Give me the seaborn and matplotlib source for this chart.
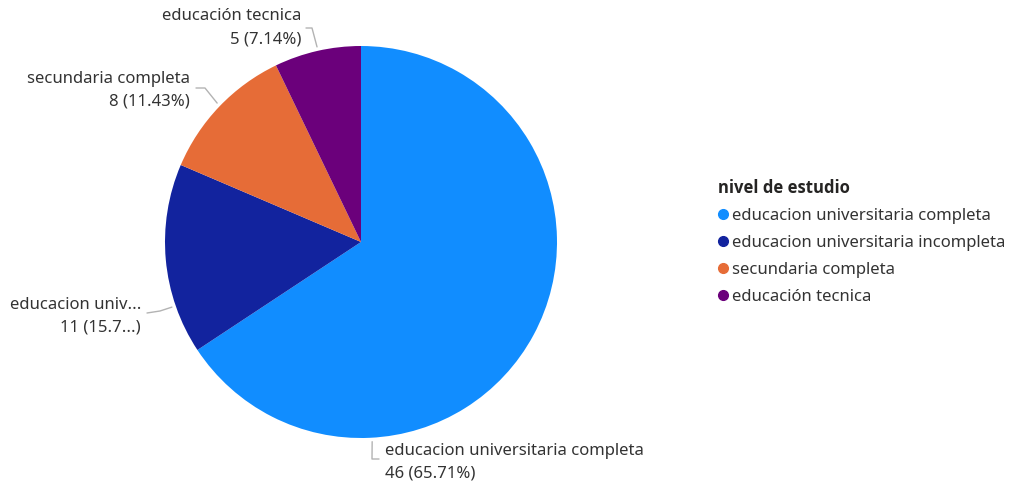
import numpy as np
import matplotlib
matplotlib.use("Agg")
import matplotlib.pyplot as plt
from matplotlib.lines import Line2D
import seaborn as sns

# Data
categories = [
    "educacion universitaria completa",
    "educacion universitaria incompleta",
    "secundaria completa",
    "educación tecnica",
]
counts = [46, 11, 8, 5]
slice_labels = [
    ("educacion universitaria completa", "46 (65.71%)"),
    ("educacion univ...", "11 (15.7...)"),
    ("secundaria completa", "8 (11.43%)"),
    ("educación tecnica", "5 (7.14%)"),
]
legend_title = "nivel de estudio"
colors = ["#118DFF", "#12239E", "#E66C37", "#6B007B"]

sns.set_theme(style="white")
plt.rcParams["font.family"] = ["Noto Sans", "DejaVu Sans"]

W, H = 1009, 484
fig = plt.figure(figsize=(W / 100, H / 100), dpi=100)
ax = fig.add_axes([0, 0, 1, 1])
ax.set_xlim(0, W)
ax.set_ylim(0, H)
ax.set_aspect("equal")
ax.axis("off")

def py(y):
    return H - y

cx, cy, r = 361, 242, 196
palette = sns.color_palette(colors)
ax.pie(counts, colors=palette, startangle=90, counterclock=False,
       center=(cx, py(cy)), radius=r, frame=True,
       wedgeprops=dict(linewidth=0))
ax.set_xlim(0, W)
ax.set_ylim(0, H)
ax.axis("off")

text_color = "#333333"
line_color = "#b3b3b3"
fs = 12

# label layout: edge angle (deg), elbow, line end, text anchor, alignment
layout = [
    dict(ang=273.2, elbow=(372, 459), end=(379, 459), txt=(385, 451), ha="left"),
    dict(ang=199.0, elbow=(160, 311), end=(147, 313), txt=(141, 305), ha="right"),
    dict(ang=136.0, elbow=(205, 88), end=(196, 88), txt=(190, 79), ha="right"),
    dict(ang=102.7, elbow=(312, 28), end=(306, 28), txt=(301, 16), ha="right"),
]
for (l1, l2), lay in zip(slice_labels, layout):
    a = np.deg2rad(lay["ang"])
    ex = cx + (r + 4) * np.cos(a)
    ey = py(cy) + (r + 4) * np.sin(a)
    xs = [ex, lay["elbow"][0], lay["end"][0]]
    ys = [ey, py(lay["elbow"][1]), py(lay["end"][1])]
    ax.plot(xs, ys, color=line_color, lw=1)
    tx, ty = lay["txt"]
    ax.text(tx, py(ty), l1, ha=lay["ha"], va="center", fontsize=fs, color=text_color)
    ax.text(tx, py(ty + 23), l2, ha=lay["ha"], va="center", fontsize=fs, color=text_color)

# legend
handles = [Line2D([0], [0], marker="o", linestyle="", markersize=7,
                  markerfacecolor=c, markeredgecolor=c) for c in palette]
leg = ax.legend(handles, categories, loc="upper left",
                title=legend_title,
                title_fontproperties={"weight": "bold", "size": fs,
                                      "family": ["Open Sans", "DejaVu Sans"]},
                bbox_to_anchor=(710 / W, 1 - 171 / H), frameon=False,
                fontsize=fs, handlelength=0.55,
                handletextpad=0.3, labelspacing=0.65, borderpad=0,
                alignment="left")
leg.get_title().set_color("#252423")
for t in leg.get_texts():
    t.set_color(text_color)

fig.savefig("out.png", dpi=100)
